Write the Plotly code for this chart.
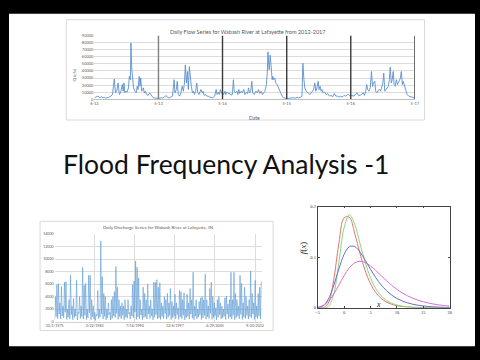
import plotly.graph_objects as go
import pandas as pd

# ---------------- Top chart: daily flow 2012-2017 (day index, cfs) ----------------
flow_days = [0, 11, 20, 30, 39, 48, 57, 66, 76, 85, 94, 103, 113, 120, 127, 135, 142, 149, 159, 164,
             168, 173, 179, 186, 194, 199, 205, 208, 212, 218, 223, 231, 238, 244, 249, 255, 260, 264, 269, 275,
             279, 284, 290, 297, 306, 315, 325, 334, 343, 352, 362, 371, 380, 389, 399, 408, 417, 426, 435, 445,
             454, 459, 467, 472, 478, 485, 493, 500, 507, 513, 518, 524, 530, 535, 541, 546, 552, 559, 565, 570,
             577, 583, 589, 596, 601, 607, 614, 620, 625, 633, 640, 648, 657, 666, 675, 685, 694, 699, 707, 712,
             718, 725, 731, 736, 744, 749, 755, 762, 768, 777, 786, 792, 797, 804, 812, 817, 823, 828, 836, 843,
             851, 858, 865, 873, 878, 884, 891, 897, 902, 910, 917,
             921, 928, 935, 943, 950, 958, 965, 972, 980, 985, 989, 993, 996, 1002, 1006, 1009, 1013, 1017, 1022, 1028,
             1033, 1041, 1048, 1055, 1063, 1070, 1077, 1085, 1092, 1100, 1109, 1118, 1127, 1137, 1146, 1155, 1164, 1173, 1183, 1188,
             1194, 1199, 1207, 1214, 1221, 1229, 1236, 1244, 1249, 1256, 1262, 1268, 1275, 1280, 1286, 1292, 1297, 1303, 1312, 1321,
             1330, 1339, 1349, 1358, 1367, 1376, 1386, 1395, 1404, 1413, 1422, 1432, 1441, 1450, 1458, 1465, 1472, 1480, 1487, 1496,
             1506, 1515, 1524, 1533, 1539, 1546, 1552, 1557, 1565, 1572, 1579, 1585, 1590, 1598, 1603, 1611, 1618, 1625, 1631, 1637,
             1644, 1649, 1655, 1662, 1668, 1675, 1681, 1686, 1692, 1697, 1703, 1708, 1714, 1721, 1727, 1732, 1738, 1744, 1749, 1755,
             1760, 1766, 1771, 1777, 1782, 1791, 1801, 1810, 1819, 1828]
flow_cfs = [2300, 3200, 4600, 2300, 3700, 2300, 2800, 1800, 2300, 3200, 4600, 6900, 28600, 9200, 11500, 23100, 6900, 9200, 20800, 11500,
            23100, 9200, 11500, 10200, 16200, 32300, 27700, 79500, 46200, 27700, 16200, 11500, 9200, 18500, 13900, 32300, 18500, 30000, 11500, 13900,
            16200, 9200, 11500, 6900, 5500, 9200, 4600, 2300, 1800, 1400, 1800, 1400, 2300, 1800, 3200, 5500, 2800, 1800, 3200, 4600,
            27700, 9200, 13900, 25400, 6900, 4600, 9200, 18500, 11500, 23100, 48500, 23100, 39300, 13900, 46200, 27700, 18500, 9200, 11500, 6900,
            11500, 23100, 9200, 6900, 11500, 13900, 9200, 11500, 5500, 6900, 4600, 4600, 3200, 2300, 2300, 4600, 13900, 6900, 10200, 6900,
            13900, 8300, 9200, 6900, 11500, 6900, 10200, 8300, 9200, 6000, 6900, 27700, 11500, 9200, 11500, 6900, 13900, 8300, 11500, 9200,
            13900, 6900, 9200, 8300, 16200, 9200, 11500, 25400, 9200, 6900, 9200,
            11500, 9200, 13900, 8300, 11500, 6900, 9200, 11500, 20800, 37000, 67000, 46200, 41600, 62400, 46200, 37000, 27700, 32300, 27700, 30000,
            23100, 20800, 16200, 13900, 9200, 4600, 2300, 1400, 1400, 1400, 1800, 2300, 1800, 2300, 1800, 2800, 2300, 2800, 4600, 50800,
            27700, 16200, 11500, 9200, 8300, 6900, 9200, 11500, 13900, 23100, 11500, 16200, 25400, 13900, 18500, 11500, 13900, 9200, 10200, 6900,
            7900, 4600, 5500, 3700, 8300, 4600, 4600, 3200, 4600, 3200, 5500, 4600, 6500, 6900, 4600, 5500, 4600, 4600, 6900, 9200,
            5500, 5500, 7900, 9200, 5500, 11500, 20800, 13900, 11500, 16200, 39300, 18500, 23100, 25400, 11500, 9200, 12900, 13900, 11500, 18500,
            23100, 37000, 11500, 13900, 16200, 18500, 27700, 45300, 23100, 27700, 39300, 20800, 18500, 27700, 20800, 23100, 27700, 30000, 39300, 20800,
            25400, 20800, 13900, 9200, 6900, 4600, 3700, 2800, 2300, 1800]
year_tick_days = [0, 365, 730, 1096, 1461, 1826]
year_tick_labels = ["6-12", "5-13", "5-14", "5-15", "5-16", "5-17"]
flow_y_ticks = [0, 10000, 20000, 30000, 40000, 50000, 60000, 70000, 80000, 90000]

# ---------------- Bottom-left: long daily discharge series ----------------
dis_peaks = [4000, 5900, 6100, 3000, 5600, 2500, 6300, 6400, 2000, 3500,
             7400, 2500, 3700, 2000, 6600, 1500, 4000, 2500, 8700, 5800,
             6100, 2000, 7400, 7400, 3500, 2500, 1500, 1200, 5000, 2000,
             12900, 7200, 4500, 4000, 2000, 3000, 1500, 3500, 4000, 4800,
             8800, 5500, 3500, 2500, 3000, 2500, 3500, 2000, 3500, 1500,
             2500, 5900, 6500, 9700, 8700, 7000, 3500, 2000, 5500, 4500,
             3500, 6000, 2500, 3500, 2000, 6300, 6300, 6700, 5500, 6200,
             3000, 2500, 4000, 3500, 4500, 3000, 5300, 3200, 2500, 4400,
             3000, 2200, 5000, 4800, 3500, 4600, 2000, 4400, 3000, 5300,
             3500, 7900, 2500, 3500, 2000, 3200, 3800, 4000, 3500, 7600,
             3500, 2500, 5300, 6300, 4000, 3000, 2200, 3500, 4000, 3000,
             2500, 2000, 3800, 4100, 2800, 3500, 7900, 3500, 7900, 4500,
             3500, 2500, 7400, 6100, 3000, 5500, 4000, 2500, 3500, 8100,
             4500, 3000, 6600, 2500, 4500, 5500, 6400]
dis_troughs = [300, 800, 500, 1200, 400, 900, 600, 1500, 350, 700,
               450, 1100, 300, 650, 900, 250, 1300, 500, 800, 400,
               1000, 350, 600, 1400, 300, 750, 450, 200, 950, 500,
               700, 1200, 400, 850, 300, 600, 1100, 250, 500, 900,
               650, 1300, 350, 800, 450, 1000, 300, 700, 550, 1200,
               400, 900, 600, 1500, 350, 750, 450, 1050, 300, 650,
               800, 400, 1200, 500, 950, 300, 700, 1100, 450, 600,
               350, 850, 500, 1300, 400, 700, 1000, 300, 600, 900,
               450, 1150, 350, 750, 500, 1000, 300, 650, 850, 400,
               1200, 550, 300, 900, 450, 700, 1100, 350, 600, 1000,
               400, 800, 500, 1300, 350, 650, 950, 300, 700, 1100,
               450, 600, 850, 350, 1200, 500, 750, 400, 1000, 300,
               650, 900, 450, 1150, 350, 700, 500, 1000, 400, 800,
               600, 1200, 350, 750, 500, 900, 450]
dis_tick_dates = ["1975-10-01", "1983-02-22", "1990-07-16", "1997-12-06", "2005-04-29", "2012-09-20"]
dis_tick_labels = ["10/1/1975", "2/22/1983", "7/16/1990", "12/6/1997", "4/29/2005", "9/20/2012"]
dis_y_ticks = [0, 2000, 4000, 6000, 8000, 10000, 12000, 14000]

dis_values = []
for tr, pk in zip(dis_troughs, dis_peaks):
    dis_values += [tr, pk]
dis_dates = pd.date_range("1975-10-01", periods=len(dis_values), freq="51D")

# ---------------- Bottom-right: Gumbel density curves ----------------
pdf_x = list(range(-5, 21))
pdf_red = [0.0000, 0.0004, 0.0091, 0.0532, 0.1274, 0.1778, 0.1787, 0.1473, 0.1075, 0.0730,
           0.0474, 0.0300, 0.0186, 0.0115, 0.0070, 0.0043, 0.0026, 0.0016, 0.0010, 0.0006,
           0.0004, 0.0002, 0.0001, 0.0001, 0.0000, 0.0000]
pdf_green = [0.0000, 0.0000, 0.0023, 0.0254, 0.0897, 0.1585, 0.1839, 0.1653, 0.1273, 0.0893,
             0.0591, 0.0378, 0.0237, 0.0147, 0.0090, 0.0055, 0.0033, 0.0020, 0.0012, 0.0008,
             0.0005, 0.0003, 0.0002, 0.0001, 0.0001, 0.0000]
pdf_blue = [0.0005, 0.0040, 0.0169, 0.0431, 0.0768, 0.1057, 0.1208, 0.1210, 0.1102, 0.0938,
            0.0760, 0.0595, 0.0454, 0.0341, 0.0252, 0.0185, 0.0135, 0.0098, 0.0071, 0.0051,
            0.0037, 0.0026, 0.0019, 0.0014, 0.0010, 0.0007]
pdf_magenta = [0.0011, 0.0046, 0.0127, 0.0266, 0.0449, 0.0637, 0.0793, 0.0889, 0.0920, 0.0894,
               0.0827, 0.0736, 0.0637, 0.0538, 0.0446, 0.0365, 0.0296, 0.0237, 0.0189, 0.0150,
               0.0119, 0.0093, 0.0073, 0.0057, 0.0045, 0.0035]
pdf_series = [("red", pdf_red, "#e8746c"), ("green", pdf_green, "#84d884"),
              ("blue", pdf_blue, "#6a6cc4"), ("magenta", pdf_magenta, "#d670d6")]

W, H = 480, 360
def px(x):
    return x / W
def py(y):
    return 1 - y / H

fig = go.Figure()
fig.add_trace(go.Scatter(x=flow_days, y=flow_cfs, mode="lines", xaxis="x", yaxis="y",
                         line=dict(color="#5b8fd0", width=0.9), showlegend=False))
fig.add_trace(go.Scatter(x=dis_dates, y=dis_values, mode="lines", xaxis="x2", yaxis="y2",
                         line=dict(color="#5b9bd5", width=0.6), showlegend=False))
for name, ys, col in pdf_series:
    fig.add_trace(go.Scatter(x=pdf_x, y=ys, mode="lines", xaxis="x3", yaxis="y3", name=name,
                             line=dict(color=col, width=1, shape="spline", smoothing=1.0), showlegend=False))

grid = "#dcdcdc"
lbl = "#595959"
xl_font = "Lato"
serif = "Liberation Serif"

# black paper; the white page area between the black bars is a shape
shapes = [
    dict(type="rect", xref="paper", yref="paper", x0=0, x1=1, y0=py(349), y1=py(11), layer="below",
         fillcolor="white", line=dict(width=0)),
    dict(type="rect", xref="paper", yref="paper", x0=px(59), x1=px(428), y0=py(119), y1=py(17),
         layer="below", fillcolor="rgba(0,0,0,0)", line=dict(color="#d9d9d9", width=1)),
    dict(type="rect", xref="paper", yref="paper", x0=px(32), x1=px(272), y0=py(333), y1=py(222),
         layer="below", fillcolor="rgba(0,0,0,0)", line=dict(color="#d9d9d9", width=1)),
]
for i, d in enumerate(year_tick_days[1:]):
    shapes.append(dict(type="line", xref="x", yref="y", x0=d, x1=d, y0=0, y1=90000,
                       line=dict(color="#7f7f7f" if i == 0 else "#3a3a3a", width=1.4)))

annotations = [
    dict(text="Flood Frequency Analysis -1", xref="paper", yref="paper", x=px(54), y=py(164),
         showarrow=False, font=dict(family=xl_font, size=26.5, color="#111111"), xanchor="left", yanchor="middle"),
    dict(text="Daily Flow Series for Wabash River at Lafayette from 2012-2017", xref="paper", yref="paper",
         x=px(246), y=py(24), xanchor="center", showarrow=False, font=dict(family=xl_font, size=5.5, color=lbl)),
    dict(text="Q (cfs)", xref="paper", yref="paper", x=px(67), y=py(65), textangle=-90, xanchor="center",
         showarrow=False, font=dict(family=xl_font, size=4.5, color=lbl)),
    dict(text="Date", xref="paper", yref="paper", x=px(253), y=py(112), xanchor="center",
         showarrow=False, font=dict(family=xl_font, size=5, color=lbl)),
    dict(text="Daily Discharge Series for Wabash River at Lafayette, IN", xref="paper", yref="paper",
         x=px(153), y=py(228), xanchor="center", showarrow=False, font=dict(family=xl_font, size=4.5, color=lbl)),
    dict(text="<i>f</i>(<i>x</i>)", xref="paper", yref="paper", x=px(303), y=py(258), textangle=-90,
         xanchor="center", showarrow=False, font=dict(family=serif, size=9, color="#222")),
    dict(text="<i>x</i>", xref="paper", yref="paper", x=px(381), y=py(313), xanchor="center",
         showarrow=False, font=dict(family=serif, size=8, color="#222")),
]

fig.update_layout(
    width=W, height=H, margin=dict(l=0, r=0, t=0, b=0),
    paper_bgcolor="black", plot_bgcolor="white",
    shapes=shapes, annotations=annotations,
    xaxis=dict(domain=[px(88), px(418)], range=[0, 1826], tickvals=year_tick_days, ticktext=year_tick_labels,
               showgrid=False, zeroline=False, showline=True, linecolor="#bfbfbf", linewidth=1,
               tickfont=dict(family=xl_font, size=4, color=lbl), ticks="", anchor="y"),
    yaxis=dict(domain=[py(98), py(33)], range=[0, 90000], tickvals=flow_y_ticks, tickformat="d",
               showgrid=True, gridcolor=grid, gridwidth=0.6, zeroline=False, showline=False,
               tickfont=dict(family=xl_font, size=4, color=lbl), ticks="", anchor="x"),
    xaxis2=dict(domain=[px(47), px(261)], type="date",
                range=[pd.Timestamp("1975-10-01"), pd.Timestamp("1975-10-01") + pd.Timedelta(days=14000)],
                tickvals=dis_tick_dates, ticktext=dis_tick_labels,
                showgrid=True, gridcolor=grid, gridwidth=0.6, zeroline=False, showline=True, linecolor="#d0d0d0",
                tickfont=dict(family=xl_font, size=3.6, color=lbl), ticks="", anchor="y2"),
    yaxis2=dict(domain=[py(324), py(235)], range=[0, 14000], tickvals=dis_y_ticks, tickformat="d",
                showgrid=True, gridcolor=grid, gridwidth=0.6, zeroline=False, showline=False,
                tickfont=dict(family=xl_font, size=3.6, color=lbl), ticks="", anchor="x2"),
    xaxis3=dict(domain=[px(318), px(454)], range=[-5, 20], tickvals=[-5, 0, 5, 10, 15, 20],
                showgrid=False, zeroline=False, showline=True, mirror="ticks", linecolor="#444", linewidth=0.8,
                ticks="inside", ticklen=2, tickcolor="#444",
                tickfont=dict(family=serif, size=4.5, color="#333"), anchor="y3"),
    yaxis3=dict(domain=[py(310), py(207)], range=[0, 0.2], tickvals=[0, 0.1, 0.2], ticktext=["0", "0.1", "0.2"],
                showgrid=False, zeroline=False, showline=True, mirror="ticks", linecolor="#444", linewidth=0.8,
                ticks="inside", ticklen=2, tickcolor="#444",
                tickfont=dict(family=serif, size=4.5, color="#333"), anchor="x3"),
)

fig.write_html("out.html", config={"displayModeBar": False},
               post_script="document.body.style.margin='0';")
